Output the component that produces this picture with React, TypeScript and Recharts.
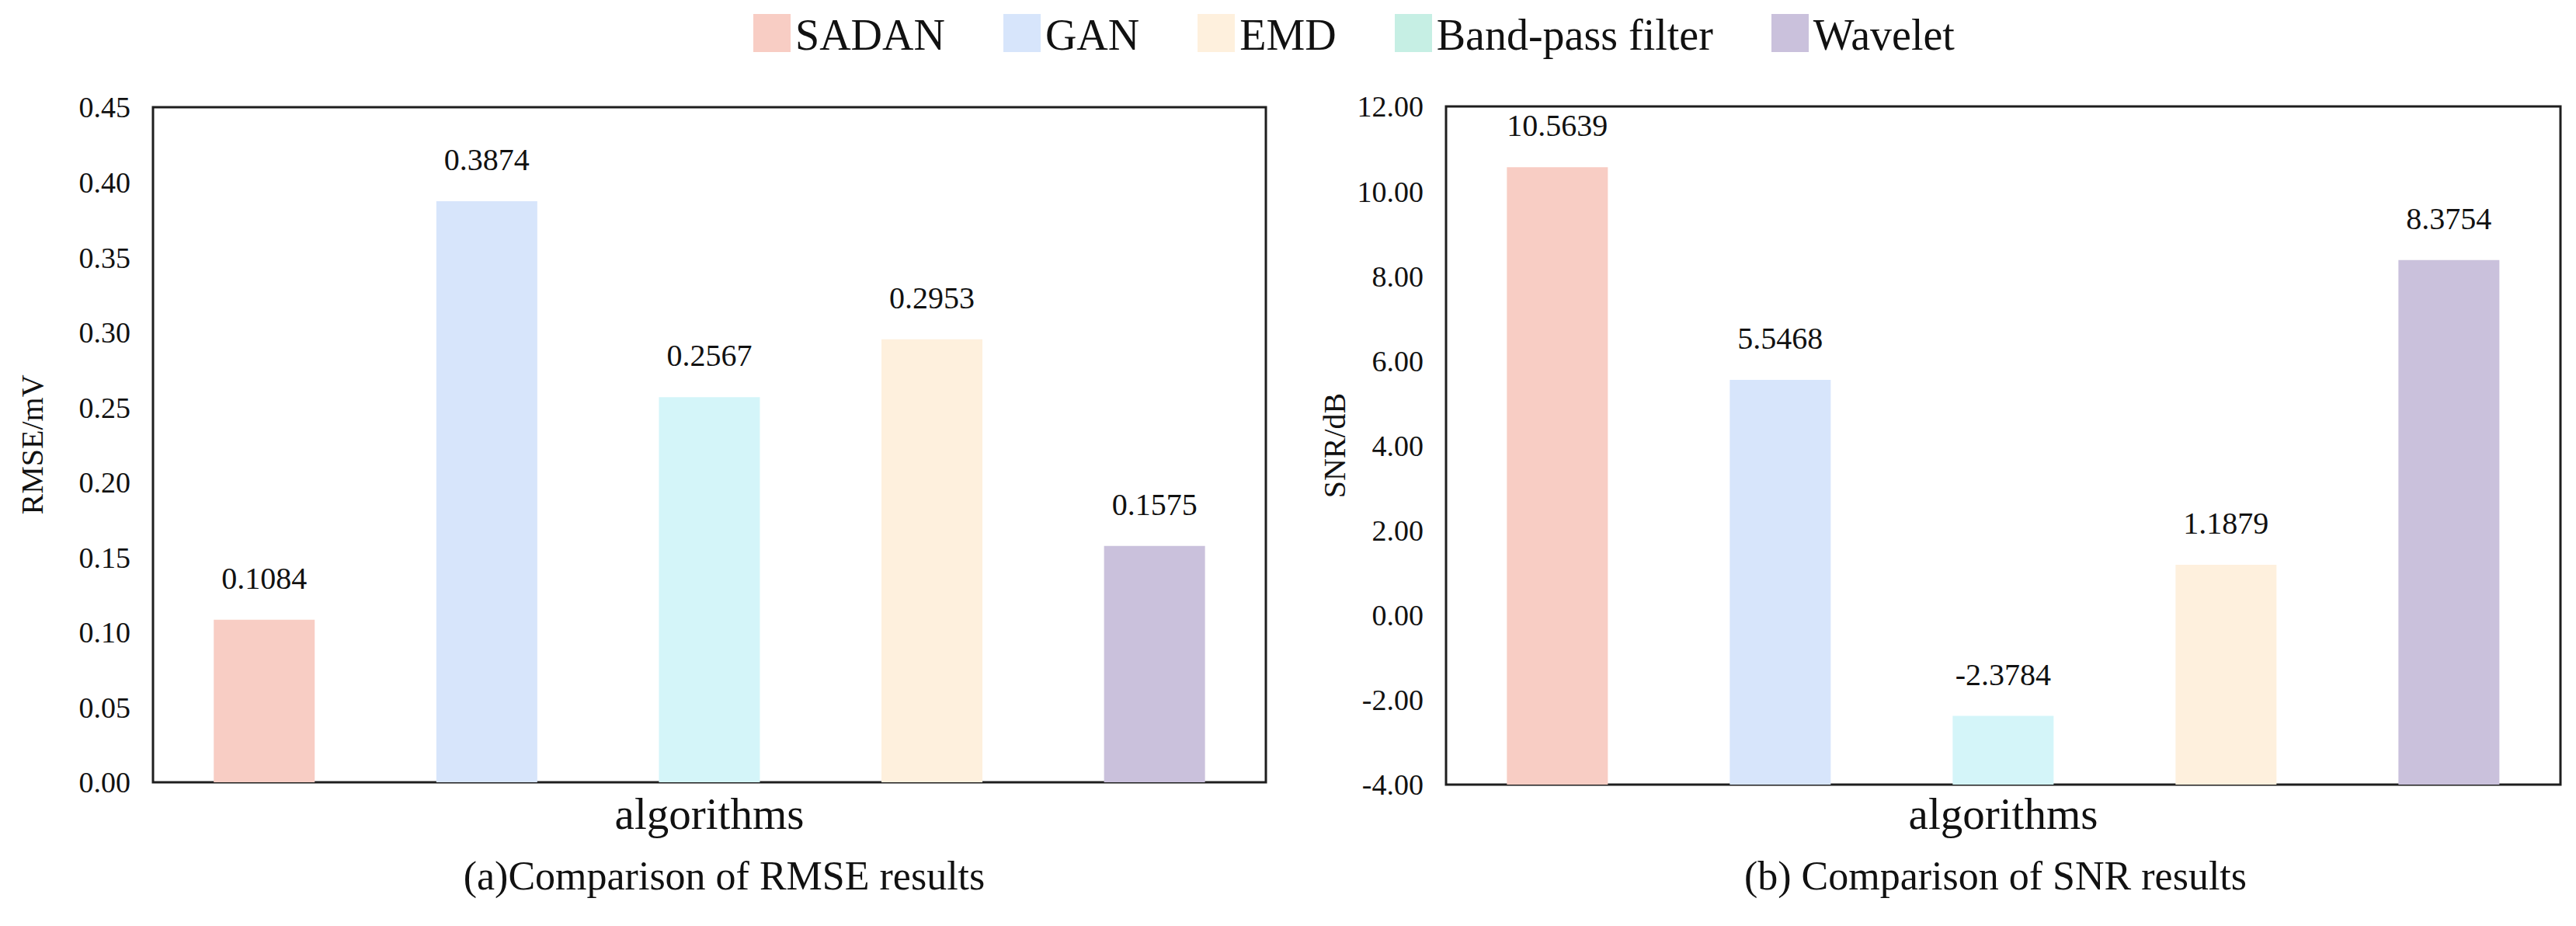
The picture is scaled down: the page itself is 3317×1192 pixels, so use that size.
import React from 'react';
import { BarChart, Bar, XAxis, YAxis, Cell, LabelList, Label, ReferenceArea } from 'recharts';

// ---------- data ----------
const categories = ['SADAN', 'GAN', 'Band-pass filter', 'EMD', 'Wavelet'];
const rmseValues = [0.1084, 0.3874, 0.2567, 0.2953, 0.1575];
const snrValues = [10.5639, 5.5468, -2.3784, 1.1879, 8.3754];
const legendOrder = ['SADAN', 'GAN', 'EMD', 'Band-pass filter', 'Wavelet'];
const rmseTicks = [0, 0.05, 0.1, 0.15, 0.2, 0.25, 0.3, 0.35, 0.4, 0.45];
const snrTicks = [-4, -2, 0, 2, 4, 6, 8, 10, 12];

// ---------- styles ----------
const barColors: Record<string, string> = {
  SADAN: '#F8CDC4',
  GAN: '#D7E5FB',
  'Band-pass filter': '#D4F5F9',
  EMD: '#FEF0DD',
  Wavelet: '#CAC1DC',
};
const legendColors: Record<string, string> = { ...barColors, 'Band-pass filter': '#C6EFE4' };
const FONT = "'Liberation Serif', 'Times New Roman', serif";
const TEXT = '#111';

const rmseData = categories.map((name, i) => ({ name, value: rmseValues[i] }));
const snrData = categories.map((name, i) => ({ name, value: snrValues[i] }));

type PanelProps = {
  left: number;
  width: number;
  plotTop: number;
  yAxisWidth: number;
  xAxisHeight: number;
  rightMargin: number;
  data: { name: string; value: number }[];
  ticks: number[];
  yLabel: string;
  yLabelX: number;
  caption: string;
  captionShift: number;
  range: boolean;
};

function Panel(p: PanelProps) {
  const height = 1192;
  const domain: [number, number] = [p.ticks[0], p.ticks[p.ticks.length - 1]];
  const plotBottom = height - p.xAxisHeight;
  const yMid = (p.plotTop + plotBottom) / 2;
  const xMid = p.yAxisWidth + (p.width - p.yAxisWidth - p.rightMargin) / 2;
  const dataKey = p.range ? (d: any) => [domain[0], d.value] : 'value';
  return (
    <div style={{ position: 'absolute', left: p.left, top: 0, width: p.width, height }}>
      <BarChart
        width={p.width}
        height={height}
        data={p.data}
        margin={{ top: p.plotTop, right: p.rightMargin, bottom: 0, left: 0 }}
        barCategoryGap="27.3%"
      >
        <XAxis dataKey="name" height={p.xAxisHeight} tick={false} tickLine={false} axisLine={false}>
          <Label
            value="algorithms"
            content={() => (
              <text x={xMid} y={1067} textAnchor="middle" fontSize={57} fill={TEXT} fontFamily={FONT}>
                algorithms
              </text>
            )}
          />
          <Label
            value={p.caption}
            content={() => (
              <text
                x={xMid + p.captionShift}
                y={1145}
                textAnchor="middle"
                fontSize={52}
                fill={TEXT}
                fontFamily={FONT}
              >
                {p.caption}
              </text>
            )}
          />
        </XAxis>
        <YAxis
          type="number"
          domain={domain}
          ticks={p.ticks}
          interval={0}
          width={p.yAxisWidth}
          tickLine={false}
          tickSize={0}
          tickMargin={29}
          axisLine={false}
          tickFormatter={(v: number) => v.toFixed(2)}
          tick={{ fontSize: 38, fill: TEXT, fontFamily: FONT }}
        >
          <Label
            value={p.yLabel}
            content={() => (
              <text
                x={p.yLabelX}
                y={yMid}
                transform={`rotate(-90, ${p.yLabelX}, ${yMid})`}
                textAnchor="middle"
                fontSize={40}
                fill={TEXT}
                fontFamily={FONT}
              >
                {p.yLabel}
              </text>
            )}
          />
        </YAxis>
        <Bar dataKey={dataKey as any} isAnimationActive={false}>
          {p.data.map((d) => (
            <Cell key={d.name} fill={barColors[d.name]} />
          ))}
          <LabelList
            dataKey="value"
            position="top"
            offset={40}
            formatter={(v: any) => Number(v).toFixed(4)}
            fontSize={40}
            fill={TEXT}
            fontFamily={FONT}
          />
        </Bar>
        <ReferenceArea
          y1={domain[0]}
          y2={domain[1]}
          fill="none"
          fillOpacity={0}
          stroke="#1e1e1e"
          strokeWidth={3}
          ifOverflow="visible"
        />
      </BarChart>
    </div>
  );
}

function Legend() {
  return (
    <div
      style={{
        position: 'absolute',
        top: 18,
        left: 970,
        height: 49,
        display: 'flex',
        alignItems: 'center',
        gap: 75,
        fontFamily: FONT,
      }}
    >
      {legendOrder.map((name) => (
        <div key={name} style={{ display: 'flex', alignItems: 'center', height: 49 }}>
          <div style={{ width: 48, height: 49, background: legendColors[name] }} />
          <span
            style={{
              marginLeft: 6,
              fontSize: 56,
              lineHeight: '49px',
              color: TEXT,
              position: 'relative',
              top: 3,
              whiteSpace: 'nowrap',
              fontFamily: FONT,
            }}
          >
            {name}
          </span>
        </div>
      ))}
    </div>
  );
}

export default function App() {
  return (
    <div
      style={{
        position: 'absolute',
        left: 0,
        top: 0,
        width: 3317,
        height: 1192,
        background: '#fff',
        fontFamily: FONT,
        overflow: 'hidden',
      }}
    >
      <style>{`.recharts-wrapper text { font-family: 'Liberation Serif', 'Times New Roman', serif; }`}</style>
      <Legend />
      <Panel
        left={0}
        width={1660}
        plotTop={138}
        yAxisWidth={197}
        xAxisHeight={185}
        rightMargin={30}
        data={rmseData}
        ticks={rmseTicks}
        yLabel="RMSE/mV"
        yLabelX={55}
        caption="(a)Comparison of RMSE results"
        captionShift={19}
        range={false}
      />
      <Panel
        left={1662}
        width={1655}
        plotTop={137}
        yAxisWidth={200}
        xAxisHeight={182}
        rightMargin={20}
        data={snrData}
        ticks={snrTicks}
        yLabel="SNR/dB"
        yLabelX={70}
        caption="(b) Comparison of SNR results"
        captionShift={-10}
        range={true}
      />
    </div>
  );
}
